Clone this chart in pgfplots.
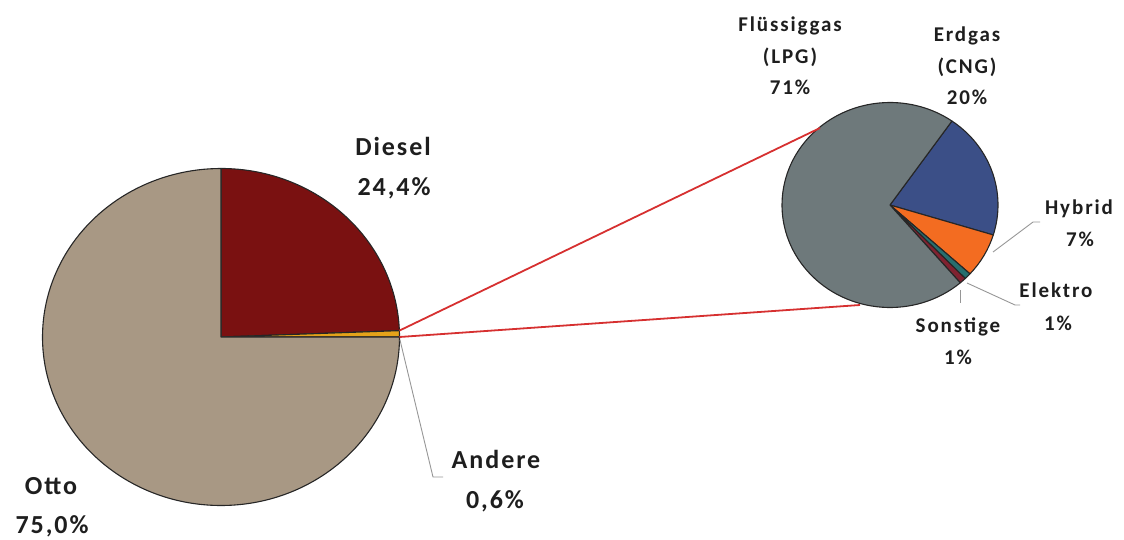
\documentclass[border=0pt]{standalone}
\usepackage{pgfplots}
\pgfplotsset{compat=1.18}
\usepackage{fontspec}
\setmainfont{Carlito}
\newfontfamily\biglbl[LetterSpace=7.5]{Carlito}
\newfontfamily\smalllbl[LetterSpace=9]{Carlito}

\definecolor{cOtto}{RGB}{168,152,132}
\definecolor{cDiesel}{RGB}{122,17,17}
\definecolor{cAndere}{RGB}{228,162,26}
\definecolor{cLPG}{RGB}{110,121,123}
\definecolor{cCNG}{RGB}{59,79,135}
\definecolor{cHybrid}{RGB}{243,108,33}
\definecolor{cElektro}{RGB}{38,110,110}
\definecolor{cSonst}{RGB}{128,34,48}
\definecolor{cLink}{RGB}{214,48,48}
\definecolor{cLeader}{RGB}{150,150,150}
\definecolor{cText}{RGB}{30,30,30}

% Pie slices (share in percent / colour), drawn clockwise from a start angle.
% #1,#2 centre in axis units, #3,#4 x/y radius in bp, #5 start angle, #6 slices
\newcommand\piechart[6]{%
  \xdef\pieAngle{#5}%
  \foreach \share/\col in {#6} {%
    \pgfmathsetmacro\pieEnd{\pieAngle-3.6*\share}%
    \edef\pieSlice{\noexpand\filldraw[fill=\col,draw=black!85,line width=1.1bp,line join=round]
      (axis cs:#1,#2) -- ++(\pieAngle:#3bp and #4bp)
      arc[start angle=\pieAngle,end angle=\pieEnd,x radius=#3bp,y radius=#4bp] -- cycle;}%
    \pieSlice
    \xdef\pieAngle{\pieEnd}%
  }%
}

\tikzset{
  big/.style={anchor=base,text=cText,font={\biglbl\bfseries\fontsize{26bp}{30bp}\selectfont}},
  small/.style={anchor=base,text=cText,font={\smalllbl\bfseries\fontsize{21bp}{25bp}\selectfont}},
  leader/.style={draw=cLeader,line width=0.9bp},
}

\begin{document}
\begin{tikzpicture}
\begin{axis}[
  name=ax,
  scale only axis, width=1124bp, height=540bp,
  xmin=0, xmax=1124, ymin=0, ymax=540, y dir=reverse,
  hide axis, clip=false,
]
% main pie: Diesel, Andere, Otto
\piechart{221}{337}{178.5}{168.5}{90}{24.4/cDiesel, 0.6/cAndere, 75.0/cOtto}
% breakdown of "Andere": Erdgas, Hybrid, Elektro, Sonstige, Flüssiggas
\piechart{890}{205}{108}{102.5}{55}{20/cCNG, 7/cHybrid, 1/cElektro, 1/cSonst, 71/cLPG}

% connector lines
\draw[cLink,line width=1.8bp] (axis cs:399.4,330.6) -- (axis cs:820,128);
\draw[cLink,line width=1.8bp] (axis cs:399.5,337) -- (axis cs:860,305);

% leader lines
\draw[leader] (axis cs:400,340) -- (axis cs:433,477) -- (axis cs:443,477);
\draw[leader] (axis cs:993,252) -- (axis cs:1033,222) -- (axis cs:1040,222);
\draw[leader] (axis cs:967,283) -- (axis cs:1015,305) -- (axis cs:1020,305);
\draw[leader] (axis cs:960,290) -- (axis cs:960,303);

% labels, main pie
\node[big] at (axis cs:393,156) {Diesel};
\node[big] at (axis cs:394,196) {24,4\%};
\node[big] at (axis cs:51,494) {Otto};
\node[big] at (axis cs:52,533) {75,0\%};
\node[big] at (axis cs:496,468) {Andere};
\node[big] at (axis cs:495,508) {0,6\%};

% labels, breakdown pie
\node[small] at (axis cs:790,32) {Flüssiggas};
\node[small] at (axis cs:790,63.5) {(LPG)};
\node[small] at (axis cs:790,95) {71\%};
\node[small] at (axis cs:967,42) {Erdgas};
\node[small] at (axis cs:967,73.5) {(CNG)};
\node[small] at (axis cs:967,105) {20\%};
\node[small] at (axis cs:1079,215) {Hybrid};
\node[small] at (axis cs:1080,247) {7\%};
\node[small] at (axis cs:1056,298) {Elektro};
\node[small] at (axis cs:1058,331) {1\%};
\node[small] at (axis cs:958,333) {Sonstige};
\node[small] at (axis cs:958,365) {1\%};
\end{axis}
\pgfresetboundingbox
\path[use as bounding box] (ax.south west) rectangle (ax.north east);
\end{tikzpicture}
\end{document}
